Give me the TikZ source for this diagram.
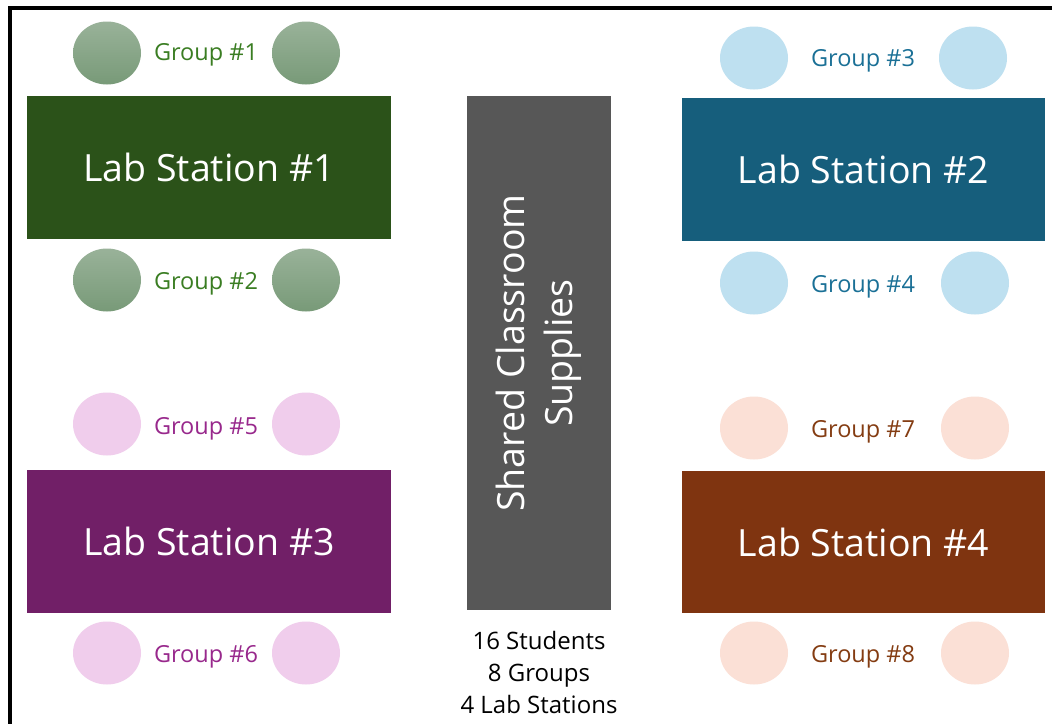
\documentclass[tikz,border=0pt]{standalone}
\usepackage{fontspec}
\setmainfont{Open Sans}
\usetikzlibrary{shapes.geometric}
\definecolor{gstat}{HTML}{2B5219}
\definecolor{bstat}{HTML}{165E7C}
\definecolor{pstat}{HTML}{711F67}
\definecolor{rstat}{HTML}{7F3410}
\definecolor{supcol}{HTML}{575757}
\definecolor{gtop}{HTML}{99B299}
\definecolor{gbot}{HTML}{789A78}
\definecolor{bseat}{HTML}{BEE0F0}
\definecolor{pseat}{HTML}{F0CDEC}
\definecolor{rseat}{HTML}{FBE0D6}
\definecolor{gtxt}{HTML}{3A7D22}
\definecolor{btxt}{HTML}{1A7096}
\definecolor{ptxt}{HTML}{98288C}
\definecolor{rtxt}{HTML}{843C12}
\tikzset{
  station/.style={rectangle, minimum width=364pt, minimum height=143pt, inner sep=0pt, text=white, font=\fontsize{37.5}{42}\selectfont},
  seat/.style={ellipse, minimum width=68pt, minimum height=63pt, inner sep=0pt},
  gseat/.style={seat, top color=gtop, bottom color=gbot},
  grp/.style={font=\fontsize{23.5}{26}\selectfont, inner sep=0pt, yshift=-3pt},
}
\begin{document}
\begin{tikzpicture}[x=1pt,y=-1pt]
\clip (0,0) rectangle (1052,723);
\fill[white] (0,0) rectangle (1052,723);
\draw[line width=3.5pt] (10,8) rectangle (1070,740);
% stations
\node[station, fill=gstat] (s1) at (209,167.5) {Lab Station \#1};
\node[station, fill=bstat, minimum width=363pt] (s2) at (863.5,169) {Lab Station \#2};
\node[station, fill=pstat] (s3) at (209,541.5) {Lab Station \#3};
\node[station, fill=rstat, minimum width=363pt, minimum height=142pt] (s4) at (863.5,542) {Lab Station \#4};
\node[rectangle, fill=supcol, minimum width=144pt, minimum height=514pt, inner sep=0pt] (sup) at (539,353) {};
\node[rotate=90, text=white, align=center, font=\fontsize{37.5}{48}\selectfont] (suptxt) at (sup.center) {Shared Classroom\\Supplies};
% group 1 / 2
\node[gseat] (c1a) at (107,53) {};
\node[gseat] (c1b) at (306,53) {};
\node[grp, text=gtxt] (g1) at (206,52) {Group \#1};
\node[gseat] (c2a) at (107,280) {};
\node[gseat] (c2b) at (306,280) {};
\node[grp, text=gtxt] (g2) at (206,281) {Group \#2};
% group 3 / 4
\node[seat, fill=bseat] (c3a) at (754,58) {};
\node[seat, fill=bseat] (c3b) at (973,58) {};
\node[grp, text=btxt] (g3) at (863,58) {Group \#3};
\node[seat, fill=bseat] (c4a) at (754,283) {};
\node[seat, fill=bseat] (c4b) at (975,283) {};
\node[grp, text=btxt] (g4) at (863,284) {Group \#4};
% group 5 / 6
\node[seat, fill=pseat] (c5a) at (107,424) {};
\node[seat, fill=pseat] (c5b) at (306,424) {};
\node[grp, text=ptxt] (g5) at (206,426) {Group \#5};
\node[seat, fill=pseat] (c6a) at (107,653) {};
\node[seat, fill=pseat] (c6b) at (306,653) {};
\node[grp, text=ptxt] (g6) at (206,654) {Group \#6};
% group 7 / 8
\node[seat, fill=rseat] (c7a) at (754,428) {};
\node[seat, fill=rseat] (c7b) at (975,428) {};
\node[grp, text=rtxt] (g7) at (863,429) {Group \#7};
\node[seat, fill=rseat] (c8a) at (754,653) {};
\node[seat, fill=rseat] (c8b) at (975,653) {};
\node[grp, text=rtxt] (g8) at (863,654) {Group \#8};
% summary
\node[align=center, font=\fontsize{24}{32}\selectfont, inner sep=0pt] (sum) at (539,672) {16 Students\\8 Groups\\4 Lab Stations};
\end{tikzpicture}
\end{document}
